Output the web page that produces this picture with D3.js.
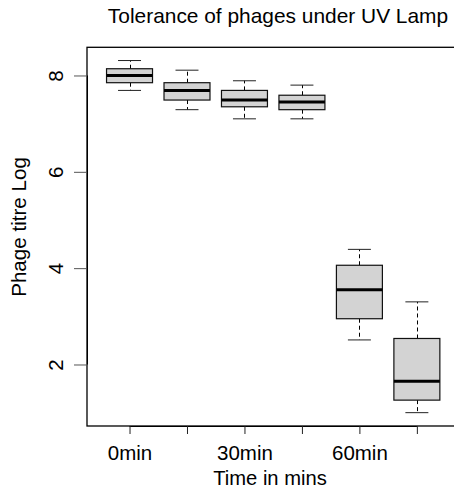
<!DOCTYPE html>
<html>
<head>
<meta charset="utf-8">
<script src="https://cdn.jsdelivr.net/npm/d3@7"></script>
<style>
  html, body { margin: 0; padding: 0; background: #fff; }
  svg { display: block; }
  text { font-family: "Liberation Sans", Arial, Helvetica, sans-serif; fill: #000; }
</style>
</head>
<body>
<script>
// ---- data ----
const categories = ["0min", "15min", "30min", "45min", "60min", "75min"];
const whiskerLow  = [7.69, 7.29, 7.10, 7.10, 2.51, 1.00];
const quartile1   = [7.85, 7.49, 7.35, 7.29, 2.95, 1.26];
const medians     = [8.00, 7.69, 7.49, 7.45, 3.55, 1.65];
const quartile3   = [8.14, 7.85, 7.69, 7.59, 4.06, 2.54];
const whiskerHigh = [8.31, 8.11, 7.89, 7.80, 4.39, 3.30];
const yTicks = [2, 4, 6, 8];
const shownLabels = ["0min", "30min", "60min"];
const chartTitle = "Tolerance of phages under UV Lamp";
const xTitle = "Time in mins";
const yTitle = "Phage titre Log";

// ---- layout ----
const W = 454, H = 493;
const pLeft = 87, pTop = 47.3, pRight = 459.4, pBottom = 426;

const svg = d3.select("body").append("svg").attr("width", W).attr("height", H);

const x = d3.scaleLinear().domain([0.26, categories.length + 0.74]).range([pLeft, pRight]);
const y = d3.scaleLinear().domain([0.723, 8.585]).range([pBottom, pTop]);

const boxW = (x(1) - x(0)) * 0.8;
const stapleW = boxW * 0.5;

const data = categories.map((c, i) => ({
  c, i, pos: i + 1,
  lo: whiskerLow[i], q1: quartile1[i], med: medians[i], q3: quartile3[i], hi: whiskerHigh[i]
}));

const g = svg.append("g");

// whiskers (dashed)
g.selectAll("line.wu").data(data).enter().append("line")
  .attr("x1", d => Math.round(x(d.pos)) + 0.5).attr("x2", d => Math.round(x(d.pos)) + 0.5)
  .attr("y1", d => y(d.q3)).attr("y2", d => y(d.hi))
  .attr("stroke", "#000").attr("stroke-width", 1).attr("stroke-dasharray", "4,3");
g.selectAll("line.wl").data(data).enter().append("line")
  .attr("x1", d => Math.round(x(d.pos)) + 0.5).attr("x2", d => Math.round(x(d.pos)) + 0.5)
  .attr("y1", d => y(d.q1)).attr("y2", d => y(d.lo))
  .attr("stroke", "#000").attr("stroke-width", 1).attr("stroke-dasharray", "4,3");

// staples
["lo", "hi"].forEach(k => {
  g.selectAll("line.s" + k).data(data).enter().append("line")
    .attr("x1", d => x(d.pos) - stapleW / 2).attr("x2", d => x(d.pos) + stapleW / 2)
    .attr("y1", d => y(d[k])).attr("y2", d => y(d[k]))
    .attr("stroke", "#222").attr("stroke-width", 1);
});

// boxes
g.selectAll("rect.box").data(data).enter().append("rect")
  .attr("x", d => x(d.pos) - boxW / 2)
  .attr("width", boxW)
  .attr("y", d => y(d.q3))
  .attr("height", d => y(d.q1) - y(d.q3))
  .attr("fill", "#d3d3d3").attr("stroke", "#111").attr("stroke-width", 1.2);

// medians
g.selectAll("line.med").data(data).enter().append("line")
  .attr("x1", d => x(d.pos) - boxW / 2).attr("x2", d => x(d.pos) + boxW / 2)
  .attr("y1", d => y(d.med)).attr("y2", d => y(d.med))
  .attr("stroke", "#000").attr("stroke-width", 3);

// frame
svg.append("rect")
  .attr("x", pLeft).attr("y", pTop).attr("width", pRight - pLeft).attr("height", pBottom - pTop)
  .attr("fill", "none").attr("stroke", "#000").attr("stroke-width", 1.3);

// y axis
const yAxis = d3.axisLeft(y).tickValues(yTicks).tickSize(13).tickSizeOuter(0).tickFormat(d3.format("d"));
const ya = svg.append("g").attr("transform", `translate(${pLeft},0)`).call(yAxis);
ya.select(".domain")
  .attr("d", `M0.5,${y(yTicks[0])}V${y(yTicks[yTicks.length - 1])}`)
  .attr("stroke", "#000");
ya.selectAll(".tick line").attr("stroke", "#555");
ya.selectAll(".tick text")
  .attr("x", null).attr("dy", null)
  .attr("transform", "translate(-24,0) rotate(-90)")
  .attr("text-anchor", "middle")
  .style("font-size", "20.5px")
  .style("font-family", '"Liberation Sans", Arial, sans-serif')
  .attr("fill", "#000");

// x axis
const xAxis = d3.axisBottom(x).tickValues(data.map(d => d.pos)).tickSize(8).tickSizeOuter(0)
  .tickFormat(v => shownLabels.includes(categories[v - 1]) ? categories[v - 1] : "");
const xa = svg.append("g").attr("transform", `translate(0,${pBottom})`).call(xAxis);
xa.select(".domain")
  .attr("d", `M${x(1)},0.5H${x(categories.length)}`).attr("stroke", "#000");
xa.selectAll(".tick line").attr("stroke", "#222");
xa.selectAll(".tick text")
  .attr("y", 34).attr("dy", null)
  .style("font-size", "20.5px")
  .style("font-family", '"Liberation Sans", Arial, sans-serif')
  .attr("fill", "#000");
xa.selectAll(".tick text").filter(function () { return this.textContent === ""; }).remove();

// titles
svg.append("text").attr("x", 278).attr("y", 22.5).attr("text-anchor", "middle")
  .style("font-size", "20.9px").text(chartTitle);
svg.append("text").attr("x", 270).attr("y", 485).attr("text-anchor", "middle")
  .style("font-size", "20.2px").text(xTitle);
svg.append("text").attr("transform", "translate(25.5,227) rotate(-90)").attr("text-anchor", "middle")
  .style("font-size", "20.6px").text(yTitle);
</script>
</body>
</html>
